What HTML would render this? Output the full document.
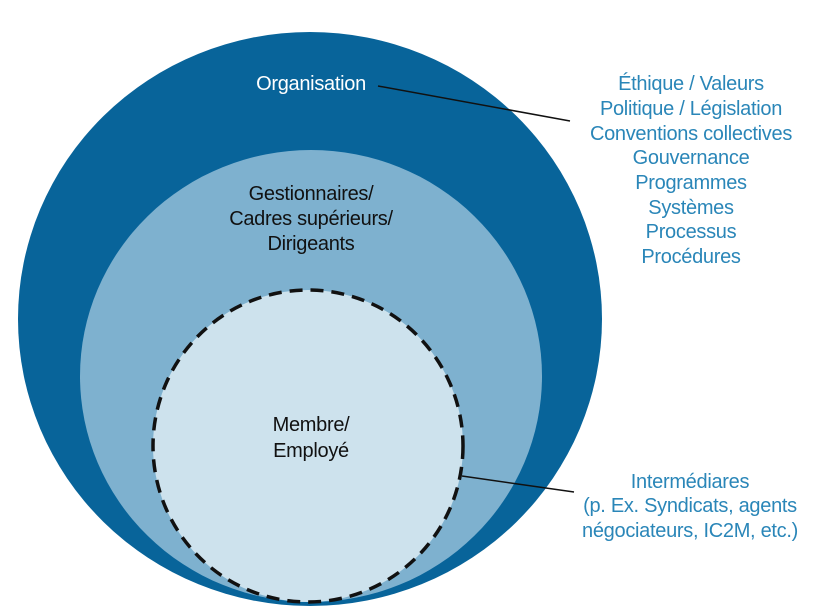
<!DOCTYPE html>
<html><head><meta charset="utf-8"><style>
html,body{margin:0;padding:0;background:#fff;}
svg{display:block;}
text{font-family:"Liberation Sans",Arial,sans-serif;font-size:20px;text-anchor:middle;letter-spacing:-0.3px;}
</style></head><body>
<svg width="821" height="607" viewBox="0 0 821 607">
<ellipse cx="310" cy="319" rx="292" ry="287" fill="#08649a"/>
<ellipse cx="311" cy="376" rx="231" ry="226" fill="#7eb1cf"/>
<ellipse cx="308" cy="446" rx="155" ry="156" fill="#cde2ed" stroke="#111" stroke-width="3.5" stroke-dasharray="13,8"/>
<line x1="378" y1="86" x2="570" y2="121" stroke="#111" stroke-width="1.5"/>
<line x1="462" y1="476" x2="574" y2="492" stroke="#111" stroke-width="1.5"/>
<text x="311" y="90" fill="#fff">Organisation</text>
<text x="311" y="200" fill="#111">Gestionnaires/</text>
<text x="311" y="225" fill="#111">Cadres supérieurs/</text>
<text x="311" y="250" fill="#111">Dirigeants</text>
<text x="311" y="431" fill="#111">Membre/</text>
<text x="311" y="457" fill="#111">Employé</text>
<g fill="#2a86b8">
<text x="691" y="90">Éthique / Valeurs</text>
<text x="691" y="115">Politique / Législation</text>
<text x="691" y="140">Conventions collectives</text>
<text x="691" y="164">Gouvernance</text>
<text x="691" y="189">Programmes</text>
<text x="691" y="214">Systèmes</text>
<text x="691" y="238">Processus</text>
<text x="691" y="263">Procédures</text>
<text x="690" y="488">Intermédiares</text>
<text x="690" y="512">(p. Ex. Syndicats, agents</text>
<text x="690" y="537">négociateurs, IC2M, etc.)</text>
</g>
</svg>
</body></html>
